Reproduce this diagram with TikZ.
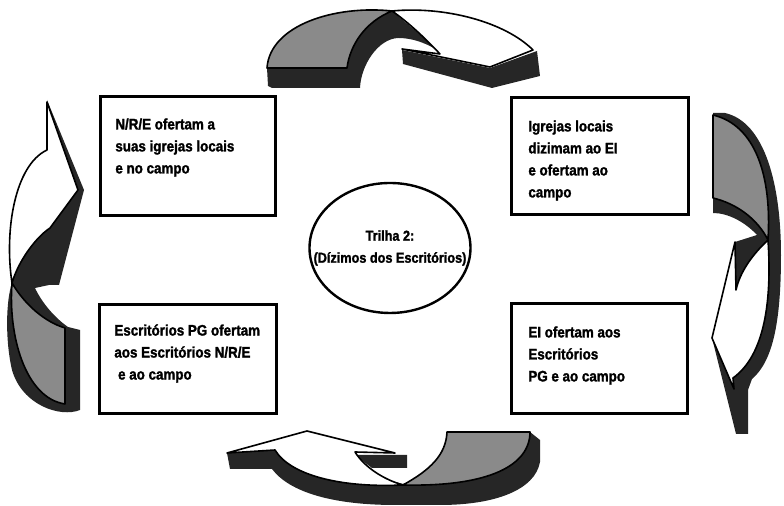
\documentclass[tikz,border=0pt]{standalone}
\usepackage{fontspec}
\setmainfont{Liberation Sans}[FakeStretch=0.88, BoldFeatures={FakeBold=1.6}]
\usetikzlibrary{shapes.geometric}
\definecolor{arrowgray}{HTML}{8A8A8A}
\definecolor{darkshade}{HTML}{262626}

\begin{document}
\begin{tikzpicture}[x=0.5pt,y=-0.5pt,
  box/.style={draw, line width=1.5pt, inner sep=0pt},
  txt/.style={anchor=north west, inner sep=0pt, align=left, font=\fontsize{7.6}{11}\selectfont\bfseries},
  band/.style={draw=black, line width=0.8pt, line join=round}]
\useasboundingbox (0,0) rectangle (784,506);

\fill[darkshade] (267,68) -- (268,86) -- (272,88) -- (360,88) .. controls (361,65) and (378,39) .. (398,38) .. controls (415,38) and (430,45) .. (442,53) -- (392,11) -- cycle;
\fill[darkshade] (402,50) -- (490,68) -- (537,51) -- (540,76) -- (492,88) -- (403,64) -- cycle;
\draw[band, fill=arrowgray] (267,68) -- (347,68) .. controls (350,45) and (365,22) .. (392,11) .. controls (335,5) and (270,25) .. (267,68) -- cycle;
\draw[band, fill=white] (392,11) .. controls (445,6) and (505,22) .. (533,50) -- (490,67) -- (402,49) -- (440,54) .. controls (425,38) and (408,22) .. (392,11) -- cycle;

\fill[darkshade] (713,113) -- (725,113) .. controls (765,122) and (781,185) .. (781,255) .. controls (781,325) and (772,362) .. (752,379) -- (748,390) -- (748,434) -- (736,434) -- (712,338) -- (735,242) -- (757,235) .. controls (745,222) and (728,213) .. (713,213) -- cycle;
\draw[band, fill=arrowgray] (713,115) -- (713,198) .. controls (738,204) and (758,220) .. (768,240) .. controls (772,175) and (755,125) .. (713,115) -- cycle;
\draw[band, fill=white] (768,240) .. controls (772,300) and (765,355) .. (733,378) -- (734,389) -- (712,338) -- (735,242) -- (736,290) .. controls (740,272) and (752,255) .. (768,240) -- cycle;

\fill[darkshade] (227,453) -- (230,469) -- (272,469) .. controls (290,493) and (335,505) .. (395,505) -- (440,505) .. controls (495,505) and (535,490) .. (540,462) -- (540,440) -- (530,432) -- (403,484) -- (275,450) -- cycle;
\fill[darkshade] (355,455) -- (407,455) -- (407,468) -- (372,468) -- cycle;
\draw[band, fill=arrowgray] (447,432) -- (530,432) .. controls (530,465) and (490,487) .. (403,485) .. controls (430,470) and (446,455) .. (447,432) -- cycle;
\draw[band, fill=white] (227,453) -- (307,431) -- (395,453) -- (355,452) .. controls (365,468) and (385,480) .. (403,485) .. controls (340,488) and (290,475) .. (275,450) -- cycle;

\fill[darkshade] (47,100) -- (84,190) -- (59,285) -- (49,285) -- (35,288) .. controls (42,303) and (55,318) .. (68,327) -- (80,330) -- (80,410) .. controls (60,418) and (22,405) .. (12,370) .. controls (5,340) and (6,300) .. (12,283) -- (47,150) -- cycle;
\draw[band, fill=arrowgray] (12,283) .. controls (8,335) and (25,398) .. (65,404) -- (65,328) .. controls (45,322) and (25,305) .. (12,283) -- cycle;
\draw[band, fill=white] (12,283) .. controls (4,230) and (15,165) .. (47,150) -- (47,102) -- (78,190) -- (50,228) .. controls (35,238) and (18,262) .. (12,283) -- cycle;

\node[box, minimum width=87.5pt, minimum height=59.5pt] (nre) at (187.5,156.5) {};
\node[box, minimum width=88.5pt, minimum height=58.5pt] (igrejas) at (599.5,156.5) {};
\node[box, minimum width=88.5pt, minimum height=54.5pt] (pg) at (187.5,359.5) {};
\node[box, minimum width=88pt, minimum height=55pt] (ei) at (599,359) {};
\node[draw, ellipse, line width=1.2pt, minimum width=80.5pt, minimum height=65pt, inner sep=0pt] (trilha) at (390,248) {};

\node[txt] (nretxt) at (115,118) {N/R/E ofertam a\\suas igrejas locais\\e no campo};
\node[txt] (igrejastxt) at (528,120) {Igrejas locais\\dizimam ao EI\\e ofertam ao\\campo};
\node[txt] (pgtxt) at (114,324) {Escritórios PG ofertam\\aos Escritórios N/R/E\\\ e ao campo};
\node[txt] (eitxt) at (528,326) {EI ofertam aos\\Escritórios\\PG e ao campo};
\node[txt, anchor=center, align=center, font=\fontsize{7.2}{11}\selectfont\bfseries] (trilhatxt) at (trilha) {Trilha 2:\\(Dízimos dos Escritórios)};
\end{tikzpicture}
\end{document}
